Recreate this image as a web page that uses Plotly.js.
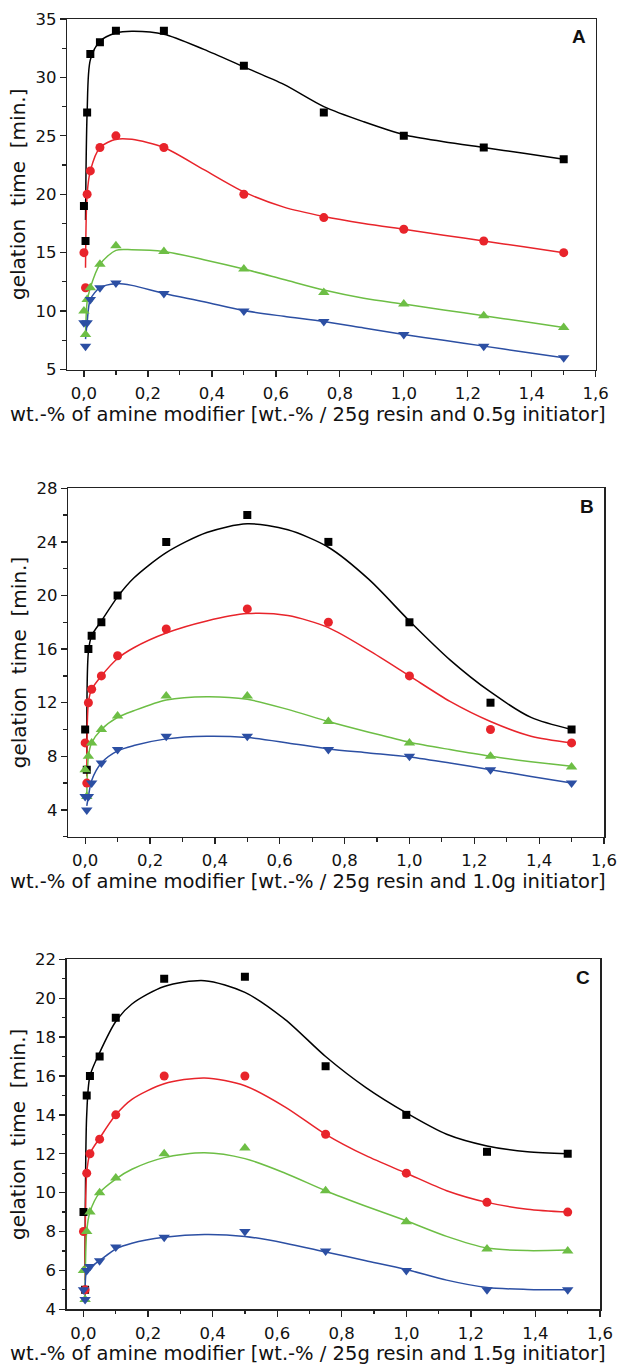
<!DOCTYPE html>
<html>
<head>
<meta charset="utf-8">
<script src="https://cdn.plot.ly/plotly-3.0.1.min.js"></script>
<style>
html,body{margin:0;padding:0;background:#fff;}
#chart{width:618px;height:1365px;}
</style>
</head>
<body>
<div id="chart"></div>
<script>
// ---------- measured data (x = wt.-% of amine modifier) ----------
const xVals = [0, 0.005, 0.01, 0.02, 0.05, 0.1, 0.25, 0.5, 0.75, 1.0, 1.25, 1.5];

// Panel A (0.5 g initiator)
const aBlack = [19, 16, 27, 32, 33, 34, 34, 31, 27, 25, 24, 23];
const aRed   = [15, 12, 20, 22, 24, 25, 24, 20, 18, 17, 16, 15];
const aGreen = [10, 8, 11, 12, 14, 15.6, 15.1, 13.6, 11.6, 10.6, 9.6, 8.6];
const aBlue  = [9, 7, 9, 11, 12, 12.4, 11.5, 10, 9.1, 8, 7, 6];

// Panel B (1.0 g initiator)
const bBlack = [10, 7, 16, 17, 18, 20, 24, 26, 24, 18, 12, 10];
const bRed   = [9, 6, 12, 13, 14, 15.5, 17.5, 19, 18, 14, 10, 9];
const bGreen = [7, 5, 8, 9, 10, 11, 12.5, 12.5, 10.6, 9, 8, 7.2];
const bBlue  = [5, 4, 5, 6, 7.5, 8.5, 9.5, 9.5, 8.5, 8, 7, 6];

// Panel C (1.5 g initiator)
const cBlack = [9, 5, 15, 16, 17, 19, 21, 21.1, 16.5, 14, 12.1, 12];
const cRed   = [8, 5, 11, 12, 12.75, 14, 16, 16, 13, 11, 9.5, 9];
const cGreen = [6, 4.5, 8, 9, 10, 10.75, 12, 12.3, 10.1, 8.5, 7.1, 7];
const cBlue  = [5, 4.5, 6, 6.2, 6.5, 7.2, 7.7, 8, 7, 6, 5, 5];

// smoothed fit curves
const fitX = [0.005, 0.01, 0.02, 0.05, 0.1, 0.15, 0.25, 0.375, 0.5, 0.625, 0.75, 0.875, 1.0, 1.125, 1.25, 1.375, 1.5];
const fitABlack = [17.8, 27, 31.5, 33.1, 33.8, 33.95, 33.7, 32.4, 30.9, 29.4, 27.5, 26.2, 25.1, 24.5, 24.0, 23.5, 23.0];
const fitARed   = [13.7, 20, 22, 24, 24.7, 24.7, 24, 22.1, 20.2, 18.9, 18.1, 17.5, 17.0, 16.5, 16.0, 15.5, 15.0];
const fitAGreen = [8, 10.8, 12, 14, 15.2, 15.25, 15.1, 14.4, 13.6, 12.7, 11.8, 11.1, 10.6, 10.1, 9.6, 9.1, 8.6];
const fitABlue  = [7.6, 9, 11, 12, 12.35, 12.2, 11.5, 10.8, 10.05, 9.55, 9.1, 8.55, 8.0, 7.5, 7.0, 6.5, 6.0];

const fitBBlack = [8, 15.8, 17, 18.1, 19.9, 21.3, 23.2, 24.7, 25.35, 24.9, 23.6, 21.2, 18.1, 15.2, 12.8, 10.9, 10.0];
const fitBRed   = [6.5, 12, 13, 14, 15.3, 16.1, 17.2, 18.1, 18.65, 18.5, 17.6, 15.9, 14.0, 12.1, 10.6, 9.5, 9.0];
const fitBGreen = [5, 8, 9, 10, 10.9, 11.4, 12.2, 12.45, 12.25, 11.5, 10.6, 9.8, 9.05, 8.5, 8.0, 7.6, 7.25];
const fitBBlue  = [4.3, 5, 6.2, 7.5, 8.4, 8.8, 9.3, 9.5, 9.4, 9.0, 8.55, 8.25, 7.95, 7.5, 7.0, 6.5, 6.0];

const fitCBlack = [6, 14, 16, 17.2, 18.8, 19.7, 20.6, 20.9, 20.3, 18.9, 17.0, 15.4, 14.1, 13.0, 12.4, 12.1, 12.0];
const fitCRed   = [5.5, 11, 12, 12.8, 14.0, 14.8, 15.6, 15.9, 15.5, 14.4, 13.0, 11.9, 11.0, 10.1, 9.5, 9.15, 9.0];
const fitCGreen = [4.8, 8, 9, 10, 10.7, 11.2, 11.8, 12.05, 11.75, 11.0, 10.1, 9.3, 8.55, 7.75, 7.15, 7.02, 7.05];
const fitCBlue  = [4.6, 6, 6.15, 6.5, 7.1, 7.4, 7.7, 7.85, 7.75, 7.4, 6.95, 6.5, 6.05, 5.5, 5.12, 5.02, 5.0];

// tick labels
const xTickVals = [0, 0.2, 0.4, 0.6, 0.8, 1.0, 1.2, 1.4, 1.6];
const xTickText = ['0,0', '0,2', '0,4', '0,6', '0,8', '1,0', '1,2', '1,4', '1,6'];
const yTicksA = [5, 10, 15, 20, 25, 30, 35];
const yTicksB = [4, 8, 12, 16, 20, 24, 28];
const yTicksC = [4, 6, 8, 10, 12, 14, 16, 18, 20, 22];

const panelLetters = ['A', 'B', 'C'];
const xTitles = [
  'wt.-% of amine modifier [wt.-% / 25g resin and 0.5g initiator]',
  'wt.-% of amine modifier [wt.-% / 25g resin and 1.0g initiator]',
  'wt.-% of amine modifier [wt.-% / 25g resin and 1.5g initiator]'
];
const yTitle = 'gelation  time  [min.]';

// ---------- styling ----------
const COLORS = ['#000000', '#e8242b', '#6dbe45', '#2c4fa3'];
const SYMBOLS = ['square', 'circle', 'triangle-up', 'triangle-down'];
const MSIZE = [8, 9, 10, 10];
const FONT = 'DejaVu Sans, Arial, sans-serif';

const panels = [
  {data: [aBlack, aRed, aGreen, aBlue], fit: [fitABlack, fitARed, fitAGreen, fitABlue]},
  {data: [bBlack, bRed, bGreen, bBlue], fit: [fitBBlack, fitBRed, fitBGreen, fitBBlue]},
  {data: [cBlack, cRed, cGreen, cBlue], fit: [fitCBlack, fitCRed, fitCGreen, fitCBlue]}
];

const traces = [];
panels.forEach((p, i) => {
  const xa = i === 0 ? 'x' : 'x' + (i + 1);
  const ya = i === 0 ? 'y' : 'y' + (i + 1);
  for (let s = 0; s < 4; s++) {
    traces.push({
      x: fitX, y: p.fit[s], xaxis: xa, yaxis: ya, type: 'scatter', mode: 'lines',
      line: {color: COLORS[s], width: 1.5, shape: 'spline', smoothing: 0.8},
      hoverinfo: 'skip', showlegend: false
    });
  }
  for (let s = 0; s < 4; s++) {
    traces.push({
      x: xVals, y: p.data[s], xaxis: xa, yaxis: ya, type: 'scatter', mode: 'markers',
      marker: {color: COLORS[s], symbol: SYMBOLS[s], size: MSIZE[s], line: {width: 0}},
      showlegend: false
    });
  }
});

const W = 618, H = 1365;
// pixel boxes of the three plot areas [left, right, top, bottom]
const boxes = [[67.3, 595.7, 19, 369.5], [68.3, 604, 488.3, 836.7], [66.7, 600, 959.3, 1309.3]];
const xTitleY = [414, 881, 1353];
const yRanges = [[5, 35], [2, 28], [4, 22]];
const yTicks = [yTicksA, yTicksB, yTicksC];
const yMinor = [2.5, 2, 1];

const layout = {
  width: W, height: H,
  margin: {l: 0, r: 0, t: 0, b: 0},
  paper_bgcolor: '#ffffff', plot_bgcolor: '#ffffff',
  font: {family: FONT, color: '#111', size: 16},
  showlegend: false,
  annotations: []
};

boxes.forEach((b, i) => {
  const xk = i === 0 ? 'xaxis' : 'xaxis' + (i + 1);
  const yk = i === 0 ? 'yaxis' : 'yaxis' + (i + 1);
  const ya = i === 0 ? 'y' : 'y' + (i + 1);
  const xa = i === 0 ? 'x' : 'x' + (i + 1);
  layout[xk] = {
    domain: [b[0] / W, b[1] / W], anchor: ya,
    range: [-0.052, 1.6], tickmode: 'array', tickvals: xTickVals, ticktext: xTickText,
    ticks: 'outside', ticklen: 6, tickwidth: 1.3, tickcolor: '#222', ticklabelstandoff: 2,
    minor: {tickmode: 'linear', tick0: 0, dtick: 0.1, ticks: 'outside', ticklen: 3.5, tickwidth: 1.2, tickcolor: '#222'},
    showline: true, linecolor: '#222', linewidth: 1.5, mirror: true,
    showgrid: false, zeroline: false,
    tickfont: {family: FONT, size: 16.5, color: '#111'}
  };
  layout[yk] = {
    domain: [1 - b[3] / H, 1 - b[2] / H], anchor: xa,
    range: yRanges[i], tickmode: 'array', tickvals: yTicks[i], ticktext: yTicks[i].map(String),
    ticks: 'outside', ticklen: 6, tickwidth: 1.3, tickcolor: '#222',
    minor: {tickmode: 'linear', tick0: 0, dtick: yMinor[i], ticks: 'outside', ticklen: 3.5, tickwidth: 1.2, tickcolor: '#222'},
    showline: true, linecolor: '#222', linewidth: 1.5, mirror: true,
    showgrid: false, zeroline: false,
    tickfont: {family: FONT, size: 16.5, color: '#111'},
    title: {text: yTitle, font: {family: FONT, size: 20, color: '#111'}, standoff: 4}
  };
  // x-axis title, centred on the page like the reference
  layout.annotations.push({
    text: xTitles[i], xref: 'paper', yref: 'paper',
    x: 307.5 / W, y: 1 - xTitleY[i] / H, xanchor: 'center', yanchor: 'middle', showarrow: false,
    font: {family: FONT, size: 19.5, color: '#111'}
  });
  layout.annotations.push({
    text: '<b>' + panelLetters[i] + '</b>', xref: xa + ' domain', yref: ya + ' domain',
    x: 0.985, y: 0.985, xanchor: 'right', yanchor: 'top', showarrow: false,
    font: {family: 'Liberation Sans, Arial, sans-serif', size: 19, color: '#111'}
  });
});

Plotly.newPlot('chart', traces, layout, {staticPlot: true, displayModeBar: false});
</script>
</body>
</html>
